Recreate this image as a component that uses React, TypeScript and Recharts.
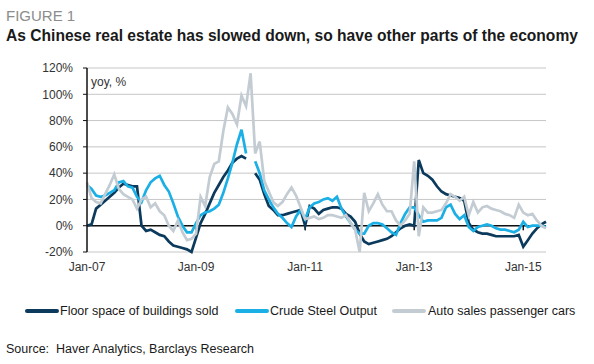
import React from 'react';
import { LineChart, Line, XAxis, YAxis, CartesianGrid, ReferenceLine } from 'recharts';

// monthly, Jan-07 .. Jun-15
const monthNames = ['Jan', 'Feb', 'Mar', 'Apr', 'May', 'Jun', 'Jul', 'Aug', 'Sep', 'Oct', 'Nov', 'Dec'];
const months: string[] = [];
for (let y = 7; y <= 15; y++) {
  for (const mn of monthNames) months.push(`${mn}-${String(y).padStart(2, '0')}`);
}
const categories = months.slice(0, 102);

const floorSpace: (number | null)[] = [
  0, 1, 13, 16, 19, 22, 25, 29, 32, 31, 30, 30,
  0, -4, -3, -5, -7, -8, -12, -15, -16, -17, -18, -20,
  -9, 2, 9, 17, 25, 31, 37, 42, 48, 51, 53, 51,
  null, 40, 35, 24, 15, 12, 8, 8, 9, 10, 11, 12,
  0, 15, 13, 9, 12, 13, 14, 14, 13, 9, 7, 3,
  -6, -12, -14, -13, -12, -11, -10, -8, -5, -2, 0, 1,
  0, 50, 40, 38, 35, 30, 26, 24, 23, 22, 21, 19,
  2, -3, -5, -6, -6, -7, -8, -8, -8, -8, -8, -7,
  -16, -11, -6, -2, 1, 3,
];

const steelOutput: (number | null)[] = [
  31, 28, 23, 22, 23, 25, 27, 33, 34, 30, 29, 22,
  18, 27, 33, 36, 38, 31, 26, 17, 7, 0, -5, -5,
  2, 8, 10, 11, 13, 16, 25, 36, 48, 62, 73, 55,
  null, 49, 40, 27, 20, 14, 9, 6, 2, -1, 7, 12,
  5, 14, 17, 18, 20, 21, 19, 22, 13, 7, 2, -3,
  -6, -6, 0, 2, 2, 1, -2, -5, -7, 2, 9, 14,
  14, 8, 3, 4, 4, 4, 6, 14, 16, 9, 5, 8,
  -1, -4, -1, 0, 1, 0, -2, -3, -3, -4, -5, -3,
  3, -1, 0, 0, 0, -1,
];

const autoSales: number[] = [
  33, 21, 18, 17, 24, 31, 39, 28, 24, 22, 20, 13,
  20, 22, 14, 17, 11, 8, 0, -4, 4, -5, -11, -10,
  -6, 22, 15, 37, 47, 49, 72, 90, 85, 77, 99, 91,
  116, 55, 64, 34, 26, 18, 15, 18, 24, 29, 23, 14,
  5, 6, 7, 5, 6, 8, 8, 7, 6, 8, 2, -3,
  -20, 25, 11, 17, 24, 16, 11, 11, 4, 0, 4, 9,
  49, -8, 14, 10, 10, 11, 12, 17, 24, 22, 19, 22,
  8, 18, 10, 14, 15, 13, 12, 11, 9, 8, 6, 16,
  10, 8, 9, 4, 0, -2,
];

const xTicks = ['Jan-07', 'Jan-09', 'Jan-11', 'Jan-13', 'Jan-15'];
const yTicks = [-20, 0, 20, 40, 60, 80, 100, 120];

const series = [
  { key: 'floor', name: 'Floor space of buildings sold', color: '#0b3a5c' },
  { key: 'steel', name: 'Crude Steel Output', color: '#1ab0e6' },
  { key: 'auto', name: 'Auto sales passenger cars', color: '#c3ccd3' },
];

const data = categories.map((month, i) => ({
  month,
  floor: floorSpace[i],
  steel: steelOutput[i],
  auto: autoSales[i],
}));

const FONT = '"Liberation Sans", Arial, sans-serif';

const legendPos = [
  { line: 25, text: 60 },
  { line: 235, text: 270 },
  { line: 392, text: 428 },
];

const ChartLegend = () => (
  <div style={{ position: 'absolute', left: 0, top: 303, width: 594, height: 16, fontFamily: FONT }}>
    {series.map((s, i) => (
      <React.Fragment key={s.key}>
        <div
          style={{
            position: 'absolute',
            left: legendPos[i].line,
            top: 6,
            width: 34,
            height: 4,
            borderRadius: 2,
            background: s.color,
          }}
        />
        <div
          style={{
            position: 'absolute',
            left: legendPos[i].text,
            top: 0,
            fontSize: 12.5,
            lineHeight: '16px',
            color: '#1a1a1a',
            whiteSpace: 'nowrap',
          }}
        >
          {s.name}
        </div>
      </React.Fragment>
    ))}
  </div>
);

export default function App() {
  return (
    <div
      style={{
        position: 'absolute',
        left: 0,
        top: 0,
        width: 594,
        height: 364,
        background: '#fff',
        fontFamily: FONT,
      }}
    >
      <div style={{ position: 'absolute', left: 6, top: 7, fontSize: 15, color: '#8c8c8c', lineHeight: '18px' }}>
        FIGURE 1
      </div>
      <div
        style={{
          position: 'absolute',
          left: 6,
          top: 27,
          fontSize: 15.6,
          fontWeight: 'bold',
          color: '#1a1a1a',
          lineHeight: '18px',
          whiteSpace: 'nowrap',
        }}
      >
        As Chinese real estate has slowed down, so have other parts of the economy
      </div>

      <LineChart
        width={594}
        height={364}
        data={data}
        margin={{ top: 68, right: 48, bottom: 82, left: 0 }}
        style={{ position: 'absolute', left: 0, top: 0 }}
      >
        <CartesianGrid horizontal vertical={false} stroke="#c6c6c6" strokeWidth={1} />
        <XAxis
          dataKey="month"
          ticks={xTicks}
          interval={0}
          axisLine={false}
          tickLine={false}
          tickSize={0}
          tickMargin={10}
          height={30}
          tick={{ fontSize: 12, fill: '#333', fontFamily: FONT }}
        />
        <YAxis
          domain={[-20, 120]}
          ticks={yTicks}
          interval={0}
          width={87}
          tickFormatter={(v: number) => `${v}%`}
          axisLine={{ stroke: '#111', strokeWidth: 1.5 }}
          tickLine={{ stroke: '#111' }}
          tickSize={4}
          tickMargin={10}
          tick={{ fontSize: 12, fill: '#333', fontFamily: FONT }}
        />
        <ReferenceLine y={0} stroke="#111" strokeWidth={1.5} />
        {xTicks.slice(1).map((t) => (
          <ReferenceLine
            key={t}
            segment={[
              { x: t, y: 0 },
              { x: t, y: -3.5 },
            ]}
            stroke="#111"
            strokeWidth={1.5}
          />
        ))}
        {series.map((s) => (
          <Line
            key={s.key}
            type="linear"
            dataKey={s.key}
            name={s.name}
            stroke={s.color}
            strokeWidth={2.7}
            dot={false}
            activeDot={false}
            connectNulls={false}
            isAnimationActive={false}
          />
        ))}
        <text x={91} y={86} fontSize={12} fill="#333" fontFamily={FONT}>
          yoy, %
        </text>
      </LineChart>

      <ChartLegend />

      <div style={{ position: 'absolute', left: 6, top: 342, fontSize: 12.5, color: '#1a1a1a', whiteSpace: 'nowrap' }}>
        Source:&nbsp; Haver Analytics, Barclays Research
      </div>
    </div>
  );
}
